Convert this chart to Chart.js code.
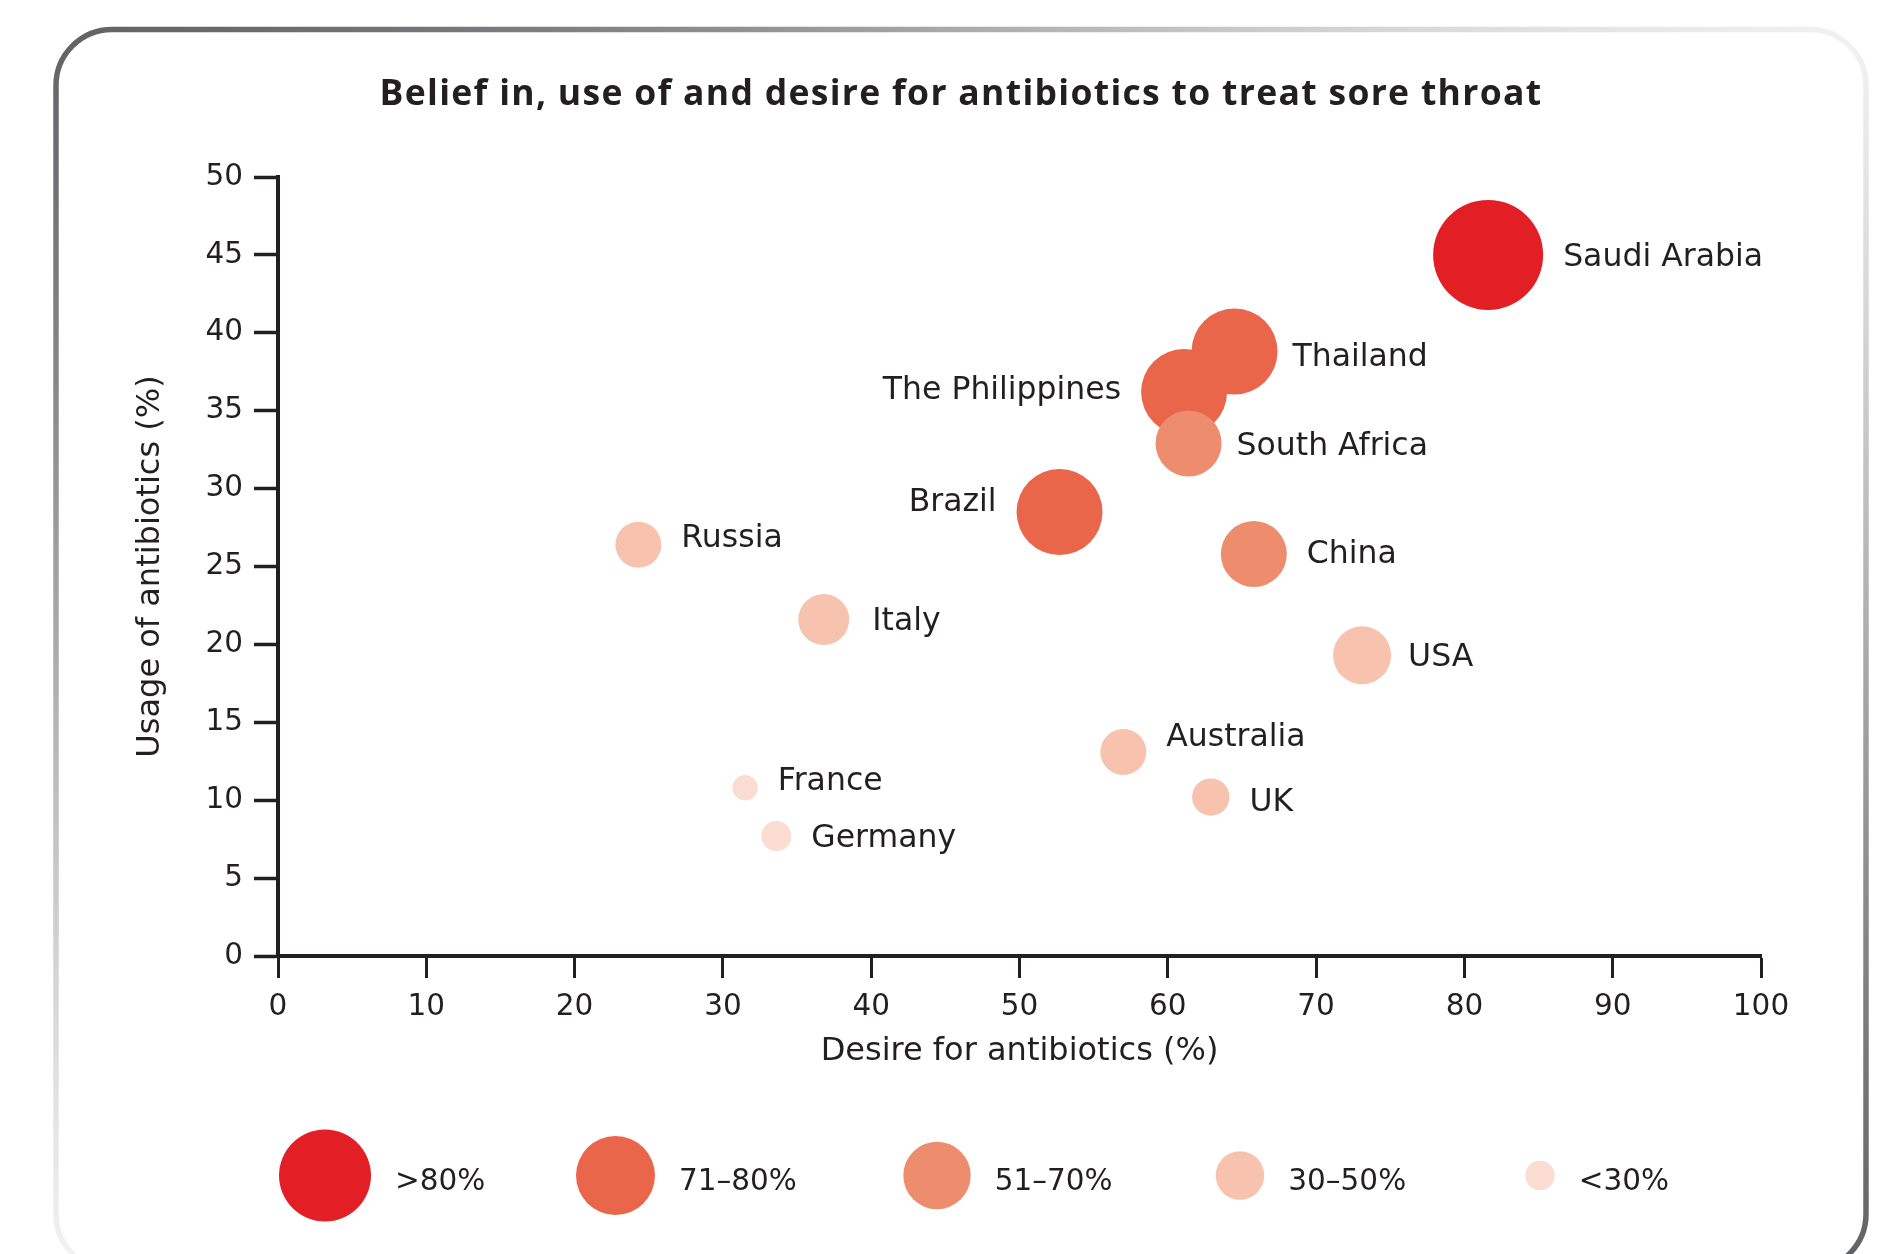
<!DOCTYPE html>
<html>
<head>
<meta charset="utf-8">
<script src="https://cdn.jsdelivr.net/npm/chart.js@4.4.1/dist/chart.umd.min.js"></script>
<style>
html,body{margin:0;padding:0;background:#fff;overflow:hidden}
canvas{display:block}
</style>
</head>
<body>
<canvas id="c" width="1889" height="1254"></canvas>
<script>
// ---------------- data ----------------
const titleText = 'Belief in, use of and desire for antibiotics to treat sore throat';
const countries = ['Saudi Arabia','Thailand','The Philippines','South Africa','Brazil','Russia','China','Italy','USA','Australia','UK','France','Germany'];
const desire    = [81.6, 64.5, 61.1, 61.4, 52.7, 24.3, 65.8, 36.8, 73.1, 57.0, 62.9, 31.5, 33.6];
const usage     = [45.0, 38.8, 36.2, 32.9, 28.5, 26.4, 25.8, 21.6, 19.3, 13.1, 10.2, 10.8, 7.7];
const beliefSize = [55, 43, 43, 33, 43, 23, 33, 25.5, 29, 23, 18.7, 12.7, 15];
const beliefBand = [0, 1, 1, 2, 1, 3, 2, 3, 3, 3, 3, 4, 4];
const bandLabels = ['>80%', '71–80%', '51–70%', '30–50%', '<30%'];
const bandLegendSize = [46, 39.5, 33.7, 24.3, 14.7];
const xTicks = [0,10,20,30,40,50,60,70,80,90,100];
const yTicks = [0,5,10,15,20,25,30,35,40,45,50];
const xTitle = 'Desire for antibiotics (%)';
const yTitle = 'Usage of antibiotics (%)';

// ---------------- styles ----------------
const bandColors = ['#e31f26', '#ea664b', '#ee8c6e', '#f7c3ae', '#fbdcd1'];
const INK = '#231f20';
const FONT = '"DejaVu Sans", sans-serif';
const labelPlacement = {
  'The Philippines': {side:'left', dy:-4},
  'Brazil': {side:'left', dy:-12},
  'Thailand': {gap:15, dy:4},
  'South Africa': {gap:15, dy:1},
  'Russia': {dy:-8},
  'China': {dy:-2},
  'Italy': {gap:23},
  'USA': {gap:17},
  'Australia': {dy:-17},
  'UK': {dy:3},
  'France': {dy:-8}
};
const labelBaselineFix = 2.5;
const legendLayout = {y: 1175.5, textY: 1182.5, centers: [325, 615.5, 937, 1240, 1540], gap: 24};

const points = countries.map((c, i) => ({x: desire[i], y: usage[i], r: beliefSize[i]}));

// ---------------- plugins ----------------
const framePlugin = {
  id: 'frame',
  beforeDraw(chart) {
    const ctx = chart.ctx;
    ctx.save();
    ctx.fillStyle = '#fff';
    ctx.fillRect(0, 0, chart.width, chart.height);
    const L = 56, T = 29.5, R = 1866, B = 1270;
    const cx = (L + R) / 2, cy = (T + B) / 2;
    const start = Math.atan2(T - cy, L - cx);
    const g = ctx.createConicGradient(start, cx, cy);
    g.addColorStop(0, '#626366');
    g.addColorStop(0.31, '#f2f2f2');
    g.addColorStop(0.5, '#626366');
    g.addColorStop(0.81, '#f2f2f2');
    g.addColorStop(1, '#626366');
    ctx.strokeStyle = g;
    ctx.lineWidth = 5.5;
    ctx.beginPath();
    ctx.roundRect(L, T, R - L, B - T, 56);
    ctx.stroke();
    ctx.restore();
  },
  afterDraw(chart) {
    const ctx = chart.ctx;
    ctx.save();
    ctx.fillStyle = INK;
    ctx.font = '700 35.5px "Open Sans", sans-serif';
    ctx.letterSpacing = '1.3px';
    ctx.textAlign = 'center';
    ctx.textBaseline = 'middle';
    ctx.fillText(titleText, 961, 94.5);
    ctx.letterSpacing = '0px';
    // legend
    bandLabels.forEach((lab, i) => {
      const cxp = legendLayout.centers[i];
      const r = bandLegendSize[i];
      ctx.fillStyle = bandColors[i];
      ctx.beginPath();
      ctx.arc(cxp, legendLayout.y, r, 0, Math.PI * 2);
      ctx.fill();
      ctx.fillStyle = INK;
      ctx.font = '29.5px ' + FONT;
      ctx.textAlign = 'left';
      ctx.textBaseline = 'middle';
      ctx.fillText(lab, cxp + r + legendLayout.gap, legendLayout.textY);
    });
    ctx.restore();
  }
};

const labelPlugin = {
  id: 'countryLabels',
  afterDatasetsDraw(chart) {
    const ctx = chart.ctx;
    const meta = chart.getDatasetMeta(0);
    ctx.save();
    ctx.fillStyle = INK;
    ctx.font = '31.5px ' + FONT;
    ctx.textBaseline = 'middle';
    meta.data.forEach((el, i) => {
      const name = countries[i];
      const p = labelPlacement[name] || {};
      const gap = p.gap !== undefined ? p.gap : 20;
      const dy = (p.dy || 0) + labelBaselineFix;
      const r = el.options.radius;
      if (p.side === 'left') {
        ctx.textAlign = 'right';
        ctx.fillText(name, el.x - r - gap, el.y + dy);
      } else {
        ctx.textAlign = 'left';
        ctx.fillText(name, el.x + r + gap, el.y + dy);
      }
    });
    ctx.restore();
  }
};

// ---------------- chart ----------------
new Chart(document.getElementById('c'), {
  type: 'bubble',
  data: {
    datasets: [{
      data: points,
      backgroundColor: beliefBand.map(b => bandColors[b]),
      hoverBackgroundColor: beliefBand.map(b => bandColors[b]),
      borderWidth: 0,
      hoverBorderWidth: 0,
      hoverRadius: 0
    }]
  },
  options: {
    responsive: false,
    animation: false,
    devicePixelRatio: 1,
    events: [],
    layout: {padding: {left: 0, right: 128, top: 177, bottom: 168}},
    plugins: {legend: {display: false}, tooltip: {enabled: false}, title: {display: false}},
    scales: {
      x: {
        type: 'linear',
        min: xTicks[0], max: xTicks[xTicks.length - 1],
        afterBuildTicks(scale) { scale.ticks = xTicks.map(v => ({value: v})); },
        afterFit(scale) { scale.height = 130; },
        border: {display: true, width: 4, color: INK},
        grid: {drawOnChartArea: false, drawTicks: true, tickLength: 22, tickWidth: 3, tickColor: INK},
        ticks: {padding: 15, color: INK, font: {family: FONT, size: 29.5, lineHeight: 1}, maxRotation: 0, autoSkip: false},
        title: {display: true, text: xTitle, color: INK, font: {family: FONT, size: 32, lineHeight: 1}, padding: {top: 0, bottom: 18}}
      },
      y: {
        type: 'linear',
        min: yTicks[0], max: yTicks[yTicks.length - 1],
        afterBuildTicks(scale) { scale.ticks = yTicks.map(v => ({value: v})); },
        afterFit(scale) { scale.width = 278; },
        border: {display: true, width: 4, color: INK},
        grid: {drawOnChartArea: false, drawTicks: true, tickLength: 24, tickWidth: 3.5, tickColor: INK},
        ticks: {padding: 11, color: INK, font: {family: FONT, size: 29.5, lineHeight: 1}, autoSkip: false},
        title: {display: true, text: yTitle, color: INK, font: {family: FONT, size: 32, lineHeight: 1}, padding: {top: 135, bottom: 0}}
      }
    }
  },
  plugins: [framePlugin, labelPlugin]
});
</script>
</body>
</html>
